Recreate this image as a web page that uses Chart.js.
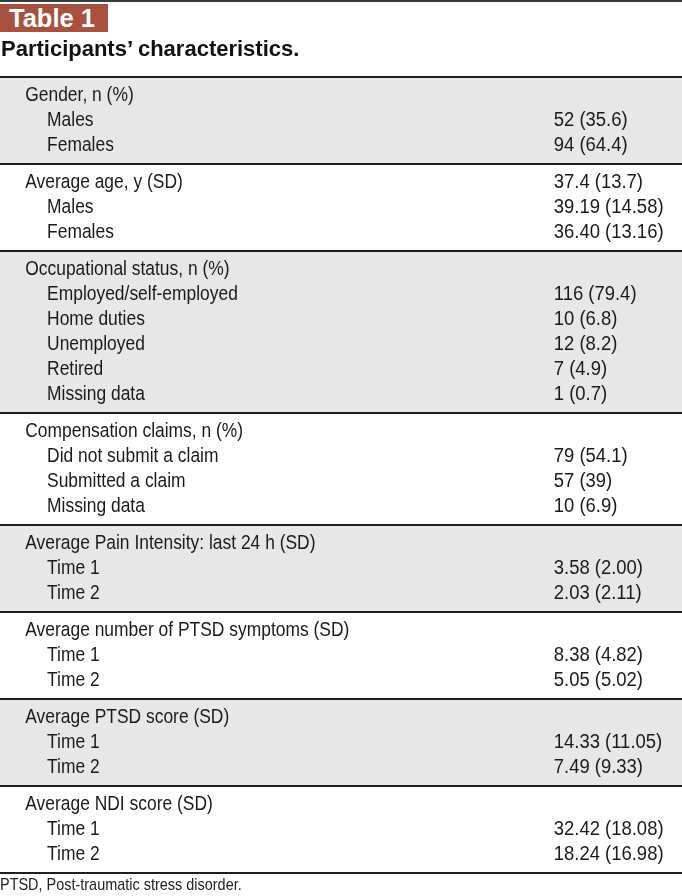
<!DOCTYPE html>
<html>
<head>
<meta charset="utf-8">
<script src="https://cdn.jsdelivr.net/npm/chart.js@4/dist/chart.umd.min.js"></script>
<style>
  html, body { margin: 0; padding: 0; background: #fff; }
  #wrap { position: relative; width: 682px; height: 896px; overflow: hidden; }
  #topRule { position: absolute; left: 0; top: 0; width: 682px; height: 2px; background: #3a3a3a; }
  #tag { position: absolute; left: 0; top: 4px; width: 108px; height: 28px; background: #a8513f;
         color: #fff; font: bold 25.5px "Liberation Sans", Arial, sans-serif; line-height: 29px;
         padding-left: 9px; box-sizing: border-box; white-space: nowrap; }
  #title { position: absolute; left: 1px; top: 35px; font: bold 22px "Liberation Sans", Arial, sans-serif;
           line-height: 28px; color: #111; white-space: nowrap; }
  #note { position: absolute; left: 0; top: 875px; font: 17px "Liberation Sans", Arial, sans-serif;
          line-height: 20px; color: #222; white-space: nowrap;
          transform: scaleX(0.85); transform-origin: 0 0; }
  #tbl { position: absolute; left: 0; top: 0; }
</style>
</head>
<body>
<div id="wrap">
  <canvas id="tbl" width="682" height="896"></canvas>
  <div id="topRule"></div>
  <div id="tag">Table 1</div>
  <div id="title">Participants’ characteristics.</div>
  <div id="note">PTSD, Post-traumatic stress disorder.</div>
</div>
<script>
// rows of the table, grouped
const groupLabels = [
    'Gender, n (%)',
    'Average age, y (SD)',
    'Occupational status, n (%)',
    'Compensation claims, n (%)',
    'Average Pain Intensity: last 24 h (SD)',
    'Average number of PTSD symptoms (SD)',
    'Average PTSD score (SD)',
    'Average NDI score (SD)',
];
const groupValues = ['', '37.4 (13.7)', '', '', '', '', '', ''];
const rowLabels = [
    ['Males', 'Females'],
    ['Males', 'Females'],
    ['Employed/self-employed', 'Home duties', 'Unemployed', 'Retired', 'Missing data'],
    ['Did not submit a claim', 'Submitted a claim', 'Missing data'],
    ['Time 1', 'Time 2'],
    ['Time 1', 'Time 2'],
    ['Time 1', 'Time 2'],
    ['Time 1', 'Time 2'],
];
const rowValues = [
    ['52 (35.6)', '94 (64.4)'],
    ['39.19 (14.58)', '36.40 (13.16)'],
    ['116 (79.4)', '10 (6.8)', '12 (8.2)', '7 (4.9)', '1 (0.7)'],
    ['79 (54.1)', '57 (39)', '10 (6.9)'],
    ['3.58 (2.00)', '2.03 (2.11)'],
    ['8.38 (4.82)', '5.05 (5.02)'],
    ['14.33 (11.05)', '7.49 (9.33)'],
    ['32.42 (18.08)', '18.24 (16.98)'],
];

// layout (x in % of width, y in row units)
const groupPad = 0.5;
const colHead = 3.7;
const colSub = 6.9;
const colValue = 81.2;
const bodyFont = '20.5px "Liberation Sans", Arial, sans-serif';
const narrowLabel = 0.85; // condensed look
const narrowValue = 0.9;

// start unit of each group
const groupStart = [];
let total = 0;
groupLabels.forEach((g, i) => {
    groupStart.push(total);
    total += 1 + rowLabels[i].length + groupPad;
});

function narrowText(c, txt, px, py, k) {
    c.save();
    c.translate(px, py);
    c.scale(k, 1);
    c.fillText(txt, 0, 0);
    c.restore();
}

const tablePlugin = {
    id: 'tablePlugin',
    beforeDatasetsDraw(chart) {
        const c = chart.ctx;
        const x = chart.scales.x;
        const y = chart.scales.y;
        const left = x.getPixelForValue(0);
        const right = x.getPixelForValue(100);
        c.save();
        // shaded bands
        groupLabels.forEach((g, i) => {
            if (i % 2 !== 0) return;
            const top = y.getPixelForValue(groupStart[i]);
            const bot = y.getPixelForValue(groupStart[i] + 1 + rowLabels[i].length + groupPad);
            c.fillStyle = '#e7e7e8';
            c.fillRect(left, top, right - left, bot - top);
        });
        // rules
        c.strokeStyle = '#1e1e1e';
        c.lineWidth = 2;
        const rules = groupStart.concat([total]);
        rules.forEach((u) => {
            const py = Math.round(y.getPixelForValue(u));
            c.beginPath();
            c.moveTo(left, py);
            c.lineTo(right, py);
            c.stroke();
        });
        // text
        c.font = bodyFont;
        c.fillStyle = '#1a1a1a';
        c.textBaseline = 'middle';
        c.textAlign = 'left';
        groupLabels.forEach((g, i) => {
            let u = groupStart[i] + groupPad / 2 + 0.5;
            narrowText(c, g, x.getPixelForValue(colHead), y.getPixelForValue(u), narrowLabel);
            if (groupValues[i]) narrowText(c, groupValues[i], x.getPixelForValue(colValue), y.getPixelForValue(u), narrowValue);
            rowLabels[i].forEach((r, j) => {
                u += 1;
                const py = y.getPixelForValue(u);
                narrowText(c, r, x.getPixelForValue(colSub), py, narrowLabel);
                narrowText(c, rowValues[i][j], x.getPixelForValue(colValue), py, narrowValue);
            });
        });
        c.restore();
    },
};

const chart = new Chart(document.getElementById('tbl').getContext('2d'), {
    type: 'scatter',
    data: { datasets: [{ data: [] }] },
    options: {
        responsive: false,
        animation: false,
        events: [],
        layout: { padding: { top: 77, bottom: 23, left: 0, right: 0 } },
        plugins: { legend: { display: false }, tooltip: { enabled: false }, title: { display: false } },
        scales: {
            x: { type: 'linear', min: 0, max: 100, display: false },
            y: { type: 'linear', min: 0, max: total, reverse: true, display: false },
        },
    },
    plugins: [tablePlugin],
});
</script>
</body>
</html>
